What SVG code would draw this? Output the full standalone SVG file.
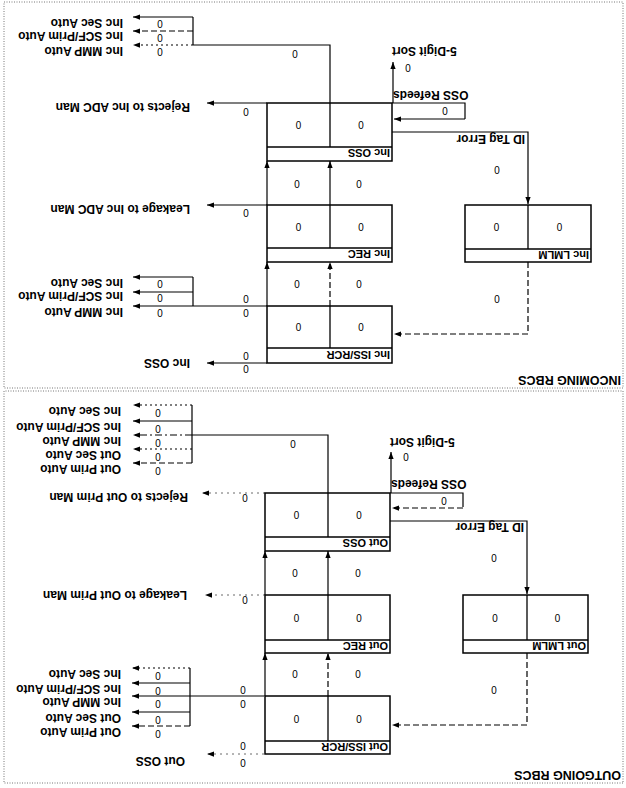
<svg xmlns="http://www.w3.org/2000/svg" width="626" height="788" viewBox="0 0 626 788">
<defs>
<marker id="ah" viewBox="0 0 8 6" refX="8" refY="3" markerWidth="7" markerHeight="6" orient="auto" markerUnits="userSpaceOnUse"><path d="M0,0 L8,3 L0,6 z" fill="#000"/></marker>
</defs>
<style>
.box{fill:#fff;stroke:#000;stroke-width:1.5}
.ln{stroke:#000;stroke-width:1.3;fill:none}
.cn{stroke:#000;stroke-width:1.2;fill:none}
.ar{stroke:#000;stroke-width:1.2;fill:none;marker-end:url(#ah)}
.dash{stroke-dasharray:6 3}
.dot{stroke-dasharray:2 3}
.dd{stroke-dasharray:7 3 2 3}
.faint{stroke:#444;stroke-width:0.8;stroke-dasharray:2 4}
.panel{fill:none;stroke:#777;stroke-width:1;stroke-dasharray:1 1.5}
text{font-family:"Liberation Sans",Arial,sans-serif;fill:#000}
.hdr{font-size:11px;font-weight:bold}
.lbl{font-size:12px;font-weight:bold}
.val{font-size:10px;text-anchor:middle}
.ttl{font-size:12.5px;font-weight:bold}
.end{text-anchor:end}
</style>
<rect width="626" height="788" fill="#fff"/>
<g transform="rotate(180 313 394)">
<g id="panels">
<rect class="panel" x="3" y="5" width="619" height="392"/>
<rect class="panel" x="3" y="400" width="619" height="386"/>
<text class="ttl" x="5" y="17.5">OUTGOING RBCS</text>
<text class="ttl" x="5" y="412.5">INCOMING RBCS</text>
</g>
<g id="connectors">
<!-- Outgoing -->
<line class="ar" x1="361" y1="92" x2="361" y2="135"/>
<line class="ar dash" x1="298" y1="92" x2="298" y2="135"/>
<line class="ar" x1="361" y1="193" x2="361" y2="237"/>
<line class="ar" x1="298" y1="193" x2="298" y2="237"/>
<line class="ar faint" x1="362" y1="34" x2="419" y2="34"/>
<line class="ar faint" x1="361" y1="193" x2="421" y2="193"/>
<line class="ar faint" x1="361" y1="295" x2="424" y2="295"/>
<path class="cn" d="M362,92 H436 M436,62 V120"/>
<line class="ar dot" x1="436" y1="120" x2="494" y2="120"/>
<line class="ar" x1="436" y1="105" x2="494" y2="105"/>
<line class="ar" x1="436" y1="92" x2="494" y2="92"/>
<line class="ar" x1="436" y1="76" x2="494" y2="76"/>
<line class="ar dash" x1="436" y1="62" x2="494" y2="62"/>
<path class="cn" d="M298,295 V353 H434 M434,325 V383"/>
<line class="ar dot" x1="434" y1="383" x2="493" y2="383"/>
<line class="ar" x1="434" y1="367" x2="493" y2="367"/>
<line class="ar dd" x1="434" y1="353" x2="493" y2="353"/>
<line class="ar dot" x1="434" y1="339" x2="493" y2="339"/>
<line class="ar dash" x1="434" y1="325" x2="493" y2="325"/>
<line class="ar" x1="235" y1="295" x2="235" y2="336"/>
<path class="cn" d="M236,295 H163 V281"/>
<line class="ar dash" x1="163" y1="280" x2="234" y2="280"/>
<path class="ar" d="M236,267 H99 V194"/>
<path class="ar dash" d="M99,135 V63 H234"/>
<!-- Incoming -->
<line class="ar" x1="359" y1="482" x2="359" y2="526"/>
<line class="ar dash" x1="296" y1="482" x2="296" y2="526"/>
<line class="ar" x1="359" y1="583" x2="359" y2="627"/>
<line class="ar" x1="296" y1="583" x2="296" y2="627"/>
<line class="ar" x1="359" y1="425" x2="419" y2="425"/>
<line class="ar" x1="359" y1="583" x2="419" y2="583"/>
<line class="ar" x1="359" y1="685" x2="419" y2="685"/>
<path class="cn" d="M359,482 H433 M433,482 V511"/>
<line class="ar" x1="433" y1="511" x2="493" y2="511"/>
<line class="ar" x1="433" y1="496" x2="493" y2="496"/>
<line class="ar" x1="433" y1="482" x2="493" y2="482"/>
<path class="cn" d="M296,685 V743 H433 M433,743 V771"/>
<line class="ar" x1="433" y1="771" x2="493" y2="771"/>
<line class="ar dash" x1="433" y1="757" x2="493" y2="757"/>
<line class="ar dot" x1="433" y1="743" x2="493" y2="743"/>
<line class="ar" x1="233" y1="685" x2="233" y2="726"/>
<path class="cn" d="M234,685 H161 V669"/>
<line class="ar" x1="161" y1="669" x2="232" y2="669"/>
<path class="ar" d="M234,656 H98 V584"/>
<path class="ar dash" d="M98,526 V454 H232"/>
</g>
<g id="connector-labels">
<!-- Outgoing -->
<text class="val" x="268" y="118.5">0</text><text class="val" x="331" y="118.5">0</text>
<text class="val" x="268" y="219.5">0</text><text class="val" x="331" y="219.5">0</text>
<text class="val" x="383" y="46.5">0</text><text class="val" x="383" y="29.5">0</text>
<text class="lbl" x="441" y="31">Out OSS</text>
<text class="val" x="381" y="192.5">0</text>
<text class="lbl" x="439" y="197">Leakage to Out Prim Man</text>
<text class="val" x="381" y="294.5">0</text>
<text class="lbl" x="438" y="295">Rejects to Out Prim Man</text>
<text class="val" x="383" y="102.5">0</text><text class="val" x="383" y="88.5">0</text>
<text class="val" x="468" y="116.5">0</text><text class="lbl" x="505" y="118.5">Inc Sec Auto</text>
<text class="val" x="468" y="101.5">0</text><text class="lbl" x="505" y="103.5">Inc SCF/Prim Auto</text>
<text class="val" x="468" y="88.5">0</text><text class="lbl" x="505" y="90">Inc MMP Auto</text>
<text class="val" x="468" y="72.5">0</text><text class="lbl" x="505" y="74.5">Out Sec Auto</text>
<text class="val" x="468" y="58.5">0</text><text class="lbl" x="505" y="60.5">Out Prim Auto</text>
<text class="val" x="333" y="348.5">0</text>
<text class="val" x="468" y="379.5">0</text><text class="lbl" x="505" y="381.5">Inc Sec Auto</text>
<text class="val" x="468" y="363.5">0</text><text class="lbl" x="505" y="365.5">Inc SCF/Prim Auto</text>
<text class="val" x="468" y="349.5">0</text><text class="lbl" x="505" y="351.5">Inc MMP Auto</text>
<text class="val" x="468" y="335.5">0</text><text class="lbl" x="505" y="337.5">Out Sec Auto</text>
<text class="val" x="468" y="321.5">0</text><text class="lbl" x="505" y="323.5">Out Prim Auto</text>
<text class="val" x="220" y="335.5">0</text>
<text class="lbl end" x="236" y="350">5-Digit Sort</text>
<text class="lbl end" x="235" y="308">OSS Refeeds</text>
<text class="val" x="182" y="291.5">0</text>
<text class="lbl" x="102" y="265">ID Tag Error</text>
<text class="val" x="132" y="234.5">0</text>
<text class="val" x="132" y="102.5">0</text>
<!-- Incoming -->
<text class="val" x="267" y="508.5">0</text><text class="val" x="329" y="508.5">0</text>
<text class="val" x="267" y="608.5">0</text><text class="val" x="329" y="608.5">0</text>
<text class="val" x="380" y="423.5">0</text><text class="val" x="380" y="436.5">0</text>
<text class="lbl" x="436" y="429">Inc OSS</text>
<text class="val" x="380" y="579.5">0</text>
<text class="lbl" x="436" y="583">Leakage to Inc ADC Man</text>
<text class="val" x="380" y="680.5">0</text>
<text class="lbl" x="436" y="685">Rejects to Inc ADC Man</text>
<text class="val" x="380" y="479.5">0</text><text class="val" x="380" y="493.5">0</text>
<text class="val" x="466" y="508.5">0</text><text class="lbl" x="503" y="509.5">Inc Sec Auto</text>
<text class="val" x="466" y="494.5">0</text><text class="lbl" x="503" y="496">Inc SCF/Prim Auto</text>
<text class="val" x="466" y="479.5">0</text><text class="lbl" x="503" y="480.5">Inc MMP Auto</text>
<text class="val" x="331" y="738.5">0</text>
<text class="val" x="466" y="768.5">0</text><text class="lbl" x="503" y="769.5">Inc Sec Auto</text>
<text class="val" x="466" y="754.5">0</text><text class="lbl" x="503" y="756">Inc SCF/Prim Auto</text>
<text class="val" x="466" y="740.5">0</text><text class="lbl" x="503" y="741.5">Inc MMP Auto</text>
<text class="val" x="218" y="724.5">0</text>
<text class="lbl end" x="234" y="741">5-Digit Sort</text>
<text class="lbl end" x="233" y="697">OSS Refeeds</text>
<text class="val" x="181" y="681.5">0</text>
<text class="lbl" x="101" y="653">ID Tag Error</text>
<text class="val" x="129" y="622.5">0</text>
<text class="val" x="129" y="493.5">0</text>
</g>
<g id="out-iss-rcr"><rect class="box" x="236" y="34" width="125" height="58"/><line class="ln" x1="236" y1="47" x2="361" y2="47"/><line class="ln" x1="298" y1="47" x2="298" y2="92"/><text class="hdr" x="238" y="45">Out ISS/RCR</text><text class="val" x="267" y="73">0</text><text class="val" x="329.5" y="73">0</text></g>
<g id="out-rec"><rect class="box" x="236" y="135" width="125" height="58"/><line class="ln" x1="236" y1="148" x2="361" y2="148"/><line class="ln" x1="298" y1="148" x2="298" y2="193"/><text class="hdr" x="238" y="146">Out REC</text><text class="val" x="267" y="174">0</text><text class="val" x="329.5" y="174">0</text></g>
<g id="out-oss"><rect class="box" x="236" y="237" width="125" height="58"/><line class="ln" x1="236" y1="251" x2="361" y2="251"/><line class="ln" x1="298" y1="251" x2="298" y2="295"/><text class="hdr" x="238" y="249">Out OSS</text><text class="val" x="267" y="277">0</text><text class="val" x="329.5" y="277">0</text></g>
<g id="out-lmlm"><rect class="box" x="38" y="135" width="125" height="58"/><line class="ln" x1="38" y1="148" x2="163" y2="148"/><line class="ln" x1="99" y1="148" x2="99" y2="193"/><text class="hdr" x="40" y="146">Out LMLM</text><text class="val" x="68.5" y="174">0</text><text class="val" x="131" y="174">0</text></g>
<g id="inc-iss-rcr"><rect class="box" x="234" y="425" width="125" height="57"/><line class="ln" x1="234" y1="440" x2="359" y2="440"/><line class="ln" x1="296" y1="440" x2="296" y2="482"/><text class="hdr" x="236" y="437">Inc ISS/RCR</text><text class="val" x="265" y="465">0</text><text class="val" x="327.5" y="465">0</text></g>
<g id="inc-rec"><rect class="box" x="234" y="526" width="125" height="57"/><line class="ln" x1="234" y1="540" x2="359" y2="540"/><line class="ln" x1="296" y1="540" x2="296" y2="583"/><text class="hdr" x="236" y="538">Inc REC</text><text class="val" x="265" y="565">0</text><text class="val" x="327.5" y="565">0</text></g>
<g id="inc-oss"><rect class="box" x="234" y="627" width="125" height="58"/><line class="ln" x1="234" y1="641" x2="359" y2="641"/><line class="ln" x1="296" y1="641" x2="296" y2="685"/><text class="hdr" x="236" y="639">Inc OSS</text><text class="val" x="265" y="667">0</text><text class="val" x="327.5" y="667">0</text></g>
<g id="inc-lmlm"><rect class="box" x="35" y="526" width="126" height="57"/><line class="ln" x1="35" y1="539" x2="161" y2="539"/><line class="ln" x1="98" y1="539" x2="98" y2="583"/><text class="hdr" x="37" y="537">Inc LMLM</text><text class="val" x="66.5" y="565">0</text><text class="val" x="129.5" y="565">0</text></g>
</g>
</svg>
